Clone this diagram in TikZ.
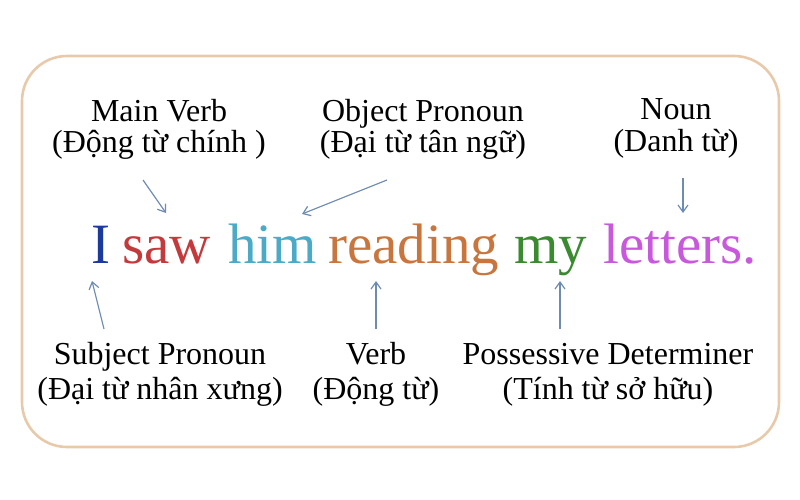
\documentclass[tikz,border=0pt]{standalone}
\usepackage{fontspec}
\setmainfont{Liberation Serif}
\usetikzlibrary{arrows.meta}
\definecolor{cI}{RGB}{28,58,158}
\definecolor{cSaw}{RGB}{196,58,60}
\definecolor{cHim}{RGB}{75,170,200}
\definecolor{cRead}{RGB}{200,118,62}
\definecolor{cMy}{RGB}{58,138,48}
\definecolor{cLet}{RGB}{200,88,220}
\definecolor{arrc}{RGB}{110,140,178}
\definecolor{framec}{RGB}{232,202,170}
\begin{document}
\begin{tikzpicture}[x=1pt,y=-1pt,
  toplbl/.style={align=center, font=\fontsize{32}{32}\selectfont, inner sep=0pt, anchor=base},
  botlbl/.style={align=center, font=\fontsize{32}{35}\selectfont, inner sep=0pt, anchor=base},
  word/.style={font=\fontsize{57}{60}\selectfont, inner sep=0pt, anchor=base west},
  arr/.style={draw=arrc, line width=1.2pt, -{Straight Barb[length=7pt,width=10pt,line width=1.2pt]}},
  frame/.style={draw=framec, line width=2.6pt, rounded corners=45pt}]
\useasboundingbox (0,0) rectangle (800,500);
\fill[white] (0,0) rectangle (800,500);
\draw[frame] (22,56) rectangle (779,447);

% sentence
\node[word, text=cI] (wI) at (91,263) {I};
\node[word, text=cSaw] (wSaw) at (122,263) {saw};
\node[word, text=cHim] (wHim) at (228,263) {him};
\node[word, text=cRead] (wRead) at (328,263) {reading};
\node[word, text=cMy] (wMy) at (514,263) {my};
\node[word, text=cLet] (wLet) at (603,263) {letters.};

% top labels (anchor = baseline of the last line)
\node[toplbl] (lMain) at (159,153) {Main Verb\\(Động từ chính )};
\node[toplbl] (lObj) at (423,153) {Object Pronoun\\(Đại từ tân ngữ)};
\node[toplbl] (lNoun) at (676,151) {Noun\\(Danh từ)};

% bottom labels
\node[botlbl] (lSubj) at (160,399) {Subject Pronoun\\(Đại từ nhân xưng)};
\node[botlbl] (lVerb) at (376,399) {Verb\\(Động từ)};
\node[botlbl] (lPoss) at (608,399) {Possessive Determiner\\(Tính từ sở hữu)};

% arrow end points
\coordinate (aMs) at (143,180); \coordinate (aMe) at (166,213);
\coordinate (aOs) at (387,180); \coordinate (aOe) at (302,214);
\coordinate (aNs) at (683,178); \coordinate (aNe) at (683,213);
\coordinate (aSs) at (104,329); \coordinate (aSe) at (92,281);
\coordinate (aVs) at (376,329); \coordinate (aVe) at (376,281);
\coordinate (aPs) at (560,329); \coordinate (aPe) at (560,281);

\draw[arr] (aMs) -- (aMe);
\draw[arr] (aOs) -- (aOe);
\draw[arr] (aNs) -- (aNe);
\draw[arr] (aSs) -- (aSe);
\draw[arr] (aVs) -- (aVe);
\draw[arr] (aPs) -- (aPe);
\end{tikzpicture}
\end{document}
